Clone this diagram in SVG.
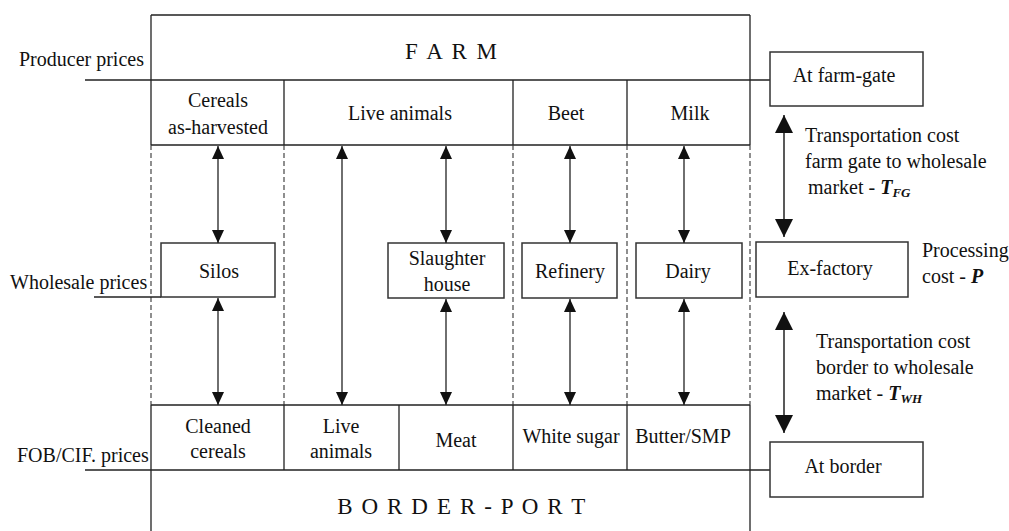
<svg xmlns="http://www.w3.org/2000/svg" width="1009" height="531" viewBox="0 0 1009 531" font-family="'Liberation Serif', 'DejaVu Serif', 'Times New Roman', serif">
<style>
text{font-family:'Liberation Serif','DejaVu Serif','Times New Roman',serif;font-size:20px;fill:#111}
.c{text-anchor:middle}
.big{font-size:23px}
.ln{stroke:#222;stroke-width:1.3;fill:none}
.da{stroke:#333;stroke-width:1.1;stroke-dasharray:5,3;fill:none}
.bx{stroke:#333;stroke-width:1.5;fill:#fff}
.ar{stroke:#222;stroke-width:1.3;fill:none;marker-start:url(#s);marker-end:url(#e)}
.ar2{stroke:#222;stroke-width:1.5;fill:none;marker-start:url(#s2);marker-end:url(#e2)}
.bi{font-weight:bold;font-style:italic}
.sub{font-weight:bold;font-style:italic;font-size:13px}
</style>
<defs>
<marker id="e" markerUnits="userSpaceOnUse" markerWidth="12" markerHeight="14" refX="6" refY="13" viewBox="0 0 12 14"><path d="M0,0 L12,0 L6,13 Z" fill="#111"/></marker>
<marker id="s" markerUnits="userSpaceOnUse" markerWidth="12" markerHeight="14" refX="6" refY="0" viewBox="0 0 12 14"><path d="M6,0 L12,13 L0,13 Z" fill="#111"/></marker>
<marker id="e2" markerUnits="userSpaceOnUse" markerWidth="18" markerHeight="19" refX="9" refY="18" viewBox="0 0 18 19"><path d="M0,0 L18,0 L9,18 Z" fill="#111"/></marker>
<marker id="s2" markerUnits="userSpaceOnUse" markerWidth="18" markerHeight="19" refX="9" refY="0" viewBox="0 0 18 19"><path d="M9,0 L18,18 L0,18 Z" fill="#111"/></marker>
</defs>
<rect width="1009" height="531" fill="#fff"/>

<g id="frame">
<path class="ln" d="M151,15 H750 M151,15 V145 M750,15 V145 M151,405 V531 M750,405 V531"/>
<path class="ln" d="M85,80 H770 M151,145 H750 M151,405 H750 M85,470 H770"/>
<path class="ln" d="M284,80 V145 M513,80 V145 M627,80 V145"/>
<path class="ln" d="M284,405 V470 M399,405 V470 M513,405 V470 M627,405 V470"/>
<path class="da" d="M151,145 V405 M284,145 V405 M513,145 V405 M627,145 V405 M750,145 V405"/>
<path class="ln" d="M94,297 H161"/>
</g>

<g id="farm"><text class="c big" x="452" y="59" letter-spacing="2">F A R M</text></g>
<g id="border-port"><text class="c big" x="462" y="514" letter-spacing="1.6">B O R D E R - P O R T</text></g>

<g id="labels">
<text x="19" y="66">Producer prices</text>
<text x="10" y="289">Wholesale prices</text>
<text x="17" y="462">FOB/CIF. prices</text>
</g>

<g id="farm-products">
<text class="c" x="218" y="107">Cereals</text>
<text class="c" x="218" y="134">as-harvested</text>
<text class="c" x="400" y="120">Live animals</text>
<text class="c" x="566" y="120">Beet</text>
<text class="c" x="690" y="120">Milk</text>
</g>

<g id="silos"><rect class="bx" x="161" y="243" width="114" height="54"/><text class="c" x="219" y="278">Silos</text></g>
<g id="slaughter-house"><rect class="bx" x="388" y="243" width="116" height="55"/><text class="c" x="447" y="265">Slaughter</text><text class="c" x="447" y="291">house</text></g>
<g id="refinery"><rect class="bx" x="522" y="243" width="95" height="55"/><text class="c" x="570" y="278">Refinery</text></g>
<g id="dairy"><rect class="bx" x="636" y="243" width="106" height="55"/><text class="c" x="688" y="278">Dairy</text></g>

<g id="border-products">
<text class="c" x="218" y="433">Cleaned</text>
<text class="c" x="218" y="458">cereals</text>
<text class="c" x="341" y="433">Live</text>
<text class="c" x="341" y="458">animals</text>
<text class="c" x="456" y="447">Meat</text>
<text class="c" x="571" y="443">White sugar</text>
<text class="c" x="683" y="443">Butter/SMP</text>
</g>

<g id="at-farm-gate"><rect class="bx" x="770" y="52" width="153" height="54"/><text class="c" x="844" y="82">At farm-gate</text></g>
<g id="ex-factory"><rect class="bx" x="756" y="242" width="152" height="55"/><text class="c" x="830" y="275">Ex-factory</text></g>
<g id="at-border"><rect class="bx" x="770" y="442" width="153" height="55"/><text class="c" x="843" y="473">At border</text></g>

<g id="cost-labels">
<text x="805" y="142">Transportation cost</text>
<text x="805" y="168">farm gate to wholesale</text>
<text x="808" y="194">market - <tspan class="bi">T</tspan><tspan class="sub" dy="3">FG</tspan></text>
<text x="922" y="257">Processing</text>
<text x="922" y="283">cost - <tspan class="bi">P</tspan></text>
<text x="816" y="348">Transportation cost</text>
<text x="816" y="374">border to wholesale</text>
<text x="816" y="400">market - <tspan class="bi">T</tspan><tspan class="sub" dy="3">WH</tspan></text>
</g>

<g id="connectors">
<line class="ar" x1="218" y1="146" x2="218" y2="243"/>
<line class="ar" x1="218" y1="298" x2="218" y2="405"/>
<line class="ar" x1="342" y1="146" x2="342" y2="405"/>
<line class="ar" x1="446" y1="146" x2="446" y2="243"/>
<line class="ar" x1="446" y1="299" x2="446" y2="405"/>
<line class="ar" x1="570" y1="146" x2="570" y2="243"/>
<line class="ar" x1="570" y1="299" x2="570" y2="405"/>
<line class="ar" x1="684" y1="146" x2="684" y2="243"/>
<line class="ar" x1="684" y1="299" x2="684" y2="405"/>
<line class="ar2" x1="784" y1="115" x2="784" y2="237"/>
<line class="ar2" x1="784" y1="312" x2="784" y2="433"/>
</g>
</svg>
